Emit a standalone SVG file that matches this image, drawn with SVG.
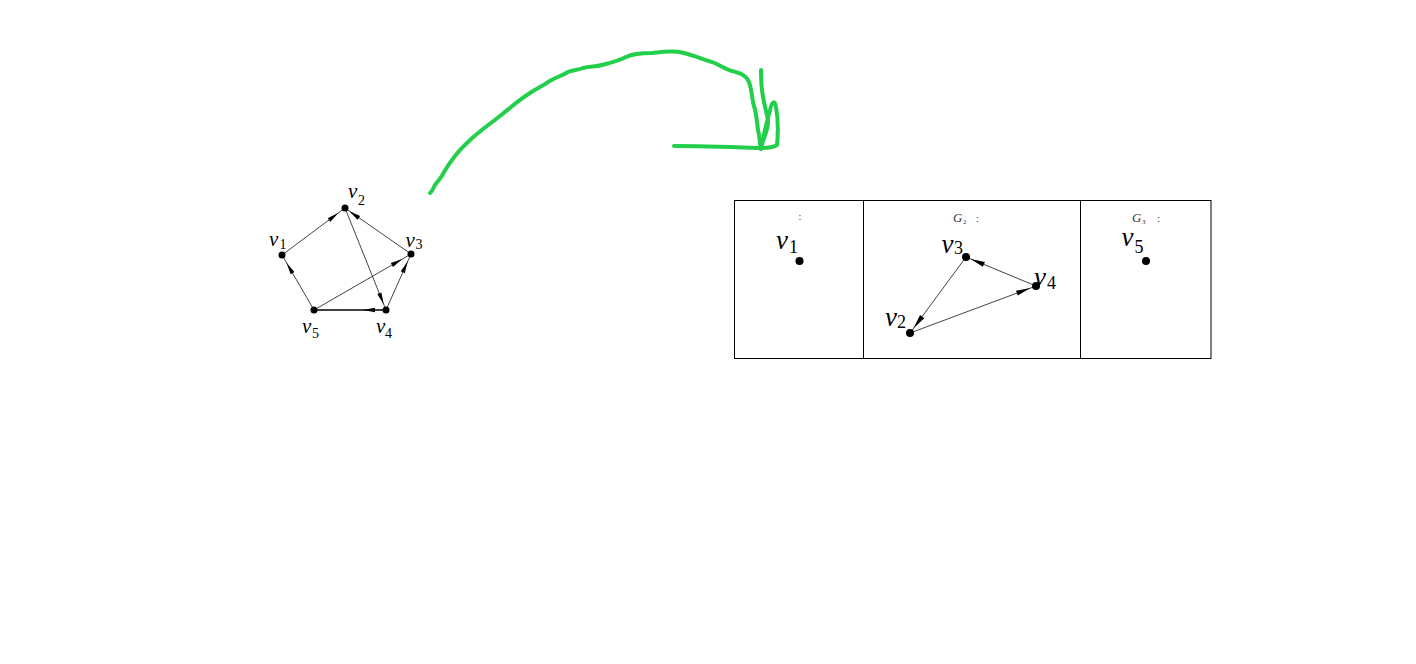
<svg xmlns="http://www.w3.org/2000/svg" xmlns:xlink="http://www.w3.org/1999/xlink" width="1416" height="664" viewBox="0 0 1416 664">
<style>
.e{stroke:#444;stroke-width:1;fill:none}
.n{fill:#000}
.lv{font-family:"Liberation Serif",serif;font-style:italic;fill:#000}
.ls{font-family:"Liberation Serif",serif;fill:#000}
.box{fill:none;stroke:#000;stroke-width:1}
.ink{fill:none;stroke:#22cf4a;stroke-width:4;stroke-linecap:round;stroke-linejoin:round}
.small{font-family:"Liberation Serif",serif;fill:#333}
</style>
<defs>
<path id="ah" d="M0,0 L-12,-2.2 L-12,2.2 Z" fill="#000"/>
</defs>
<rect width="1416" height="664" fill="#fff"/>

<g id="connectors">
  <line class="e" x1="282" y1="255" x2="345" y2="208"/>
  <line class="e" x1="411" y1="254" x2="345" y2="208"/>
  <line class="e" x1="345" y1="208" x2="386" y2="310"/>
  <line class="e" x1="314" y1="310" x2="411" y2="254"/>
  <line class="e" x1="386" y1="310" x2="411" y2="254"/>
  <line class="e" x1="386" y1="310" x2="314" y2="310" style="stroke:#000;stroke-width:1.3"/>
  <line class="e" x1="314" y1="310" x2="282" y2="255"/>
  <use xlink:href="#ah" transform="translate(338.6,212.8) rotate(-36.7)"/>
  <use xlink:href="#ah" transform="translate(349,211) rotate(-145.1)"/>
  <use xlink:href="#ah" transform="translate(383.8,304.4) rotate(68.1)"/>
  <use xlink:href="#ah" transform="translate(402.3,259) rotate(-30)"/>
  <use xlink:href="#ah" transform="translate(407.7,261.3) rotate(-65.9)"/>
  <use xlink:href="#ah" transform="translate(363,310) rotate(180)"/>
  <use xlink:href="#ah" transform="translate(286.5,262.8) rotate(-120.2)"/>
  <line class="e" x1="1036" y1="286" x2="966" y2="257"/>
  <line class="e" x1="966" y1="257" x2="910" y2="333"/>
  <line class="e" x1="910" y1="333" x2="1036" y2="286"/>
  <use xlink:href="#ah" transform="translate(970.6,258.9) rotate(-157.5) scale(1.2)"/>
  <use xlink:href="#ah" transform="translate(913.6,328.2) rotate(126.4) scale(1.2)"/>
  <use xlink:href="#ah" transform="translate(1030.4,288.1) rotate(-20.5) scale(1.2)"/>
</g>

<g id="L1"><circle class="n" cx="282" cy="255" r="3.5"/><text class="lv" x="269" y="245.5" font-size="21">v</text><text class="ls" x="279.5" y="248.5" font-size="14">1</text></g>
<g id="L2"><circle class="n" cx="345" cy="208" r="3.5"/><text class="lv" x="348" y="198" font-size="21">v</text><text class="ls" x="358" y="205" font-size="14">2</text></g>
<g id="L3"><circle class="n" cx="411" cy="254" r="3.5"/><text class="lv" x="405.5" y="247" font-size="21">v</text><text class="ls" x="415.5" y="248.5" font-size="14">3</text></g>
<g id="L4"><circle class="n" cx="386" cy="310" r="3.5"/><text class="lv" x="376" y="333" font-size="21">v</text><text class="ls" x="385" y="337.5" font-size="14">4</text></g>
<g id="L5"><circle class="n" cx="314" cy="310" r="3.5"/><text class="lv" x="302" y="333" font-size="21">v</text><text class="ls" x="312" y="337.5" font-size="14">5</text></g>

<g id="boxes">
  <rect class="box" x="734.5" y="200.5" width="476.5" height="158"/>
  <line class="box" x1="863.5" y1="200.5" x2="863.5" y2="358.5"/>
  <line class="box" x1="1080.5" y1="200.5" x2="1080.5" y2="358.5"/>
</g>

<g id="G1">
  <text class="small" x="798.5" y="220" font-size="10">:</text>
  <circle class="n" cx="799.5" cy="261" r="4"/>
  <text class="lv" x="776" y="248.5" font-size="27">v</text><text class="ls" x="789" y="252.5" font-size="18">1</text>
</g>
<g id="G2">
  <text class="small" x="953" y="222" font-size="13" font-style="italic">G</text><text class="small" x="963" y="223.5" font-size="7">2</text><text class="small" x="976" y="222" font-size="11">:</text>
  <circle class="n" cx="966" cy="257" r="4"/><text class="lv" x="941.5" y="252.5" font-size="27">v</text><text class="ls" x="954" y="253.5" font-size="18">3</text>
  <circle class="n" cx="1036" cy="286" r="4"/><text class="lv" x="1034" y="285.5" font-size="27">v</text><text class="ls" x="1047" y="289" font-size="18">4</text>
  <circle class="n" cx="910" cy="333" r="4"/><text class="lv" x="885" y="325.5" font-size="27">v</text><text class="ls" x="897" y="328" font-size="18">2</text>
</g>
<g id="G3">
  <text class="small" x="1132" y="222" font-size="13" font-style="italic">G</text><text class="small" x="1142" y="223.5" font-size="7">3</text><text class="small" x="1157" y="222" font-size="11">:</text>
  <circle class="n" cx="1146" cy="261" r="4"/><text class="lv" x="1121.5" y="245.5" font-size="27">v</text><text class="ls" x="1134.5" y="252.5" font-size="18">5</text>
</g>

<g id="ink">
  <path class="ink" d="M430,193 C433,191 433,188 435,185 C438,181 442,177 444,172 C450,162 458,151 468,142 C478,132 490,124 500,116 C510,108 520,99 530,93 C537,88 543,86 548,82 C556,77 562,76 568,72 C573,70 578,70 583,68 C590,66 596,67 602,65 C610,63 618,61 626,57 C634,53 644,53 652,53 C662,52 672,50 684,53 C696,56 704,60 712,62 C720,65 725,69 732,71 C740,73 746,75 749,82 C752,90 752,100 754,106 C757,115 757,127 759,135 C760,141 760,146 761,149"/>
  <path class="ink" d="M674,146 C700,146 730,147 761,148 C766,148 772,148 777,145 C778,135 778,118 776,107 C775,100 772,101 770,110 C767,122 763,136 761,149 C762,140 769,130 768,120 C766,110 763,100 762,90 C761,82 761,76 761,70"/>
</g>
</svg>
